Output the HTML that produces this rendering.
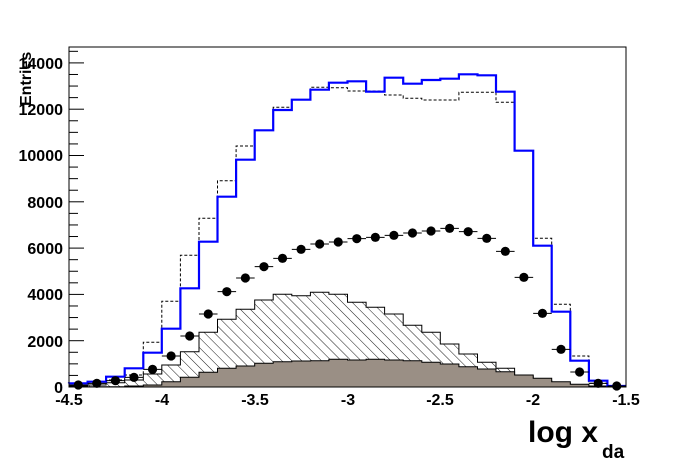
<!DOCTYPE html>
<html><head><meta charset="utf-8"><style>
html,body{margin:0;padding:0;background:#fff;width:696px;height:472px;overflow:hidden}
svg text{font-family:"Liberation Sans",Arial,sans-serif;font-weight:bold}
</style></head><body>
<svg id="s" width="696" height="472" viewBox="0 0 696 472" xmlns="http://www.w3.org/2000/svg">
<defs>
<pattern id="h" patternUnits="userSpaceOnUse" width="7" height="7" patternTransform="rotate(-45)">
<rect width="7" height="7" fill="#fff"/><line x1="0" y1="0" x2="0" y2="7" stroke="#000" stroke-width="0.9"/>
</pattern>
</defs>
<rect x="0" y="0" width="696" height="472" fill="#fff"/>
<g id="g"></g>
<rect x="69" y="47" width="557" height="340" fill="none" stroke="#000" stroke-width="1"/>
<g id="ticks" stroke="#000" stroke-width="1"></g>
<g font-size="16" text-anchor="end">
<text x="63" y="393">0</text>
<text x="63" y="347">2000</text>
<text x="63" y="300">4000</text>
<text x="63" y="254">6000</text>
<text x="63" y="208">8000</text>
<text x="63" y="161">10000</text>
<text x="63" y="115">12000</text>
<text x="63" y="69">14000</text>
</g>
<g font-size="16" text-anchor="middle">
<text x="69" y="405">-4.5</text>
<text x="162" y="405">-4</text>
<text x="255" y="405">-3.5</text>
<text x="348" y="405">-3</text>
<text x="440" y="405">-2.5</text>
<text x="533" y="405">-2</text>
<text x="626" y="405">-1.5</text>
</g>
<text transform="translate(31,106) rotate(-90)" font-size="16">Entries</text>
<text x="528" y="442" font-size="30">log x</text>
<text x="602" y="458" font-size="19">da</text>
</svg>
<script>
var x0=69,bw=(626-69)/30,base=387;
function Y(z){return 40+z/3;}
var blue=[1030,1025,1010,985,938,866,745,605,470,359,271,210,179,149,128,124,155,113,131,120,116,103,106,155,332,617,815,962,1022,1038];
var dash=[1035,1030,1020,1005,907,784,646,535,422,318,271,202,179,142,143,153,153,165,175,180,180,157,157,187,332,595,793,948,1030,1038];
var hat=[1038,1035,1028,1020,1002,975,935,877,838,808,780,763,767,757,763,787,802,822,856,877,912,942,967,985,1008,1022,1030,1038,1040,1040];
var gray=[1040,1040,1040,1038,1035,1025,1012,997,985,978,970,965,963,962,958,960,958,960,962,967,972,980,987,995,1005,1015,1025,1033,1038,1040];
var pts=[1035,1030,1022,1012,988,948,888,822,755,714,680,655,628,612,606,596,592,586,579,573,565,575,595,634,712,820,928,996,1030,1038];
function step(a,closed){var d="M"+x0+","+(closed?base:Y(a[0]));for(var i=0;i<a.length;i++){var y=Y(a[i]).toFixed(1);d+=" L"+(x0+i*bw).toFixed(1)+","+y+" L"+(x0+(i+1)*bw).toFixed(1)+","+y;}if(closed)d+=" L626,"+base+" Z";return d;}
var ns="http://www.w3.org/2000/svg",g=document.getElementById("g");
function add(tag,at,par){var e=document.createElementNS(ns,tag);for(var k in at)e.setAttribute(k,at[k]);(par||g).appendChild(e);return e;}
add("path",{d:step(hat,1),fill:"url(#h)",stroke:"#000","stroke-width":1});
add("path",{d:step(gray,1),fill:"#9a8f85",stroke:"#000","stroke-width":1});
add("path",{d:step(dash,0),fill:"none",stroke:"#000","stroke-width":1,"stroke-dasharray":"3,2"});
add("path",{d:step(blue,0),fill:"none",stroke:"#0000ff","stroke-width":2.2});
for(var i=0;i<30;i++){var cx=x0+(i+.5)*bw,cy=Y(pts[i]);
add("line",{x1:x0+i*bw,x2:x0+(i+1)*bw,y1:cy,y2:cy,stroke:"#000","stroke-width":1});
add("circle",{cx:cx,cy:cy,r:4.6,fill:"#000"});}
var t=document.getElementById("ticks");
for(var v=0;v<=14500;v+=500){var y=387-v/2000*46.3;if(y<47)break;var L=(v%2000==0)?15:9;add("line",{x1:69,x2:69+L,y1:y,y2:y},t);}
</script>
</body></html>
